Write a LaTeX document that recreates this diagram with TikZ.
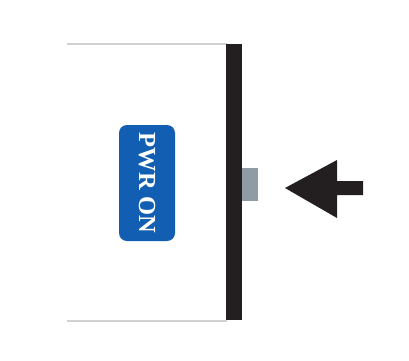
\documentclass[tikz,border=0pt]{standalone}
\usepackage{fontspec}
\setmainfont{Liberation Serif}
\usepackage{tikz}

\definecolor{pwrblue}{RGB}{18,94,178}
\definecolor{barblack}{RGB}{35,31,32}
\definecolor{btngrey}{RGB}{143,155,165}
\definecolor{edgegrey}{RGB}{208,208,208}

\begin{document}
\begin{tikzpicture}[x=1pt, y=-1pt, edge/.style={draw=edgegrey, line width=2pt}, lbl/.style={fill=pwrblue, rounded corners=8pt, minimum width=56pt, minimum height=116pt, inner sep=0pt}]
	\useasboundingbox (0,0) rectangle (409,360);
	% panel edges and side wall
	\draw[edge] (67,44) -- (227,44);
	\draw[edge] (67,321) -- (227,321);
	\fill[barblack] (226,44) rectangle (242,320);
	% the button
	\fill[btngrey] (242,168) rectangle (258,201);
	% the label
	\node[lbl] (pwr) at (147,183) {};
	\node[rotate=-90, text=white, font=\bfseries\fontsize{24.5}{24.5}\selectfont] (txt) at (pwr.center) {PWR ON};
	% press arrow
	\fill[barblack] (285,188) -- (337,160) -- (337,181) -- (363,181) -- (363,195) -- (337,195) -- (337,218) -- cycle;
\end{tikzpicture}
\end{document}
